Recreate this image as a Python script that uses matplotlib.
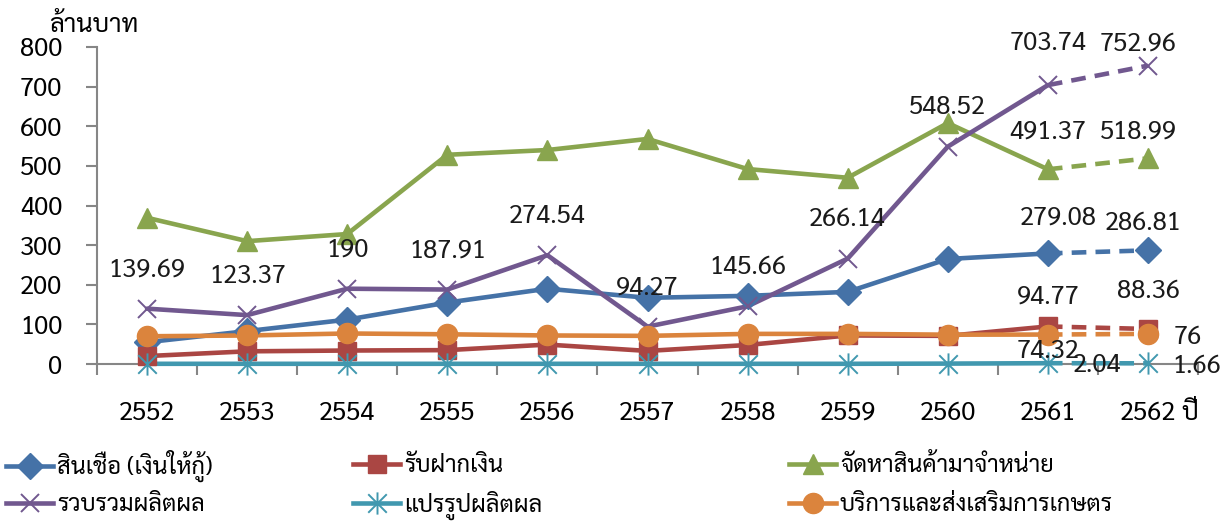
import matplotlib
matplotlib.use('Agg')
import matplotlib.pyplot as plt
from matplotlib.path import Path
import numpy as np

plt.rcParams['font.family'] = ['Sarabun', 'Noto Sans Thai', 'DejaVu Sans']
plt.rcParams['font.size'] = 18.5

years = ['2552', '2553', '2554', '2555', '2556', '2557', '2558', '2559', '2560', '2561', '2562']
credit = [55, 83, 112, 155, 190, 167, 172, 182, 265, 279.08, 286.81]
deposit = [20, 32, 34, 35, 49, 33, 48, 72, 71, 94.77, 88.36]
supply = [369, 310, 328, 528, 540, 568, 492, 470, 608, 491.37, 518.99]
collect = [139.69, 123.37, 190, 187.91, 274.54, 94.27, 145.66, 266.14, 548.52, 703.74, 752.96]
process = [0.5, 0.5, 0.5, 0.5, 0.5, 0.5, 0.5, 0.5, 1.0, 2.04, 1.66]
service = [70, 72, 77, 75, 72, 71, 76, 76, 74, 74.32, 76]

names = ['สินเชื่อ (เงินให้กู้)', 'รับฝากเงิน', 'จัดหาสินค้ามาจำหน่าย',
         'รวบรวมผลิตผล', 'แปรรูปผลิตผล', 'บริการและส่งเสริมการเกษตร']
series = [credit, deposit, supply, collect, process, service]
colors = ['#4572A7', '#AA4643', '#89A54E', '#71588F', '#4198AF', '#DB843D']

# asterisk marker: x plus vertical bar
star = Path([(-1, -1), (1, 1), (-1, 1), (1, -1), (0, -1.2), (0, 1.2)],
            [Path.MOVETO, Path.LINETO, Path.MOVETO, Path.LINETO, Path.MOVETO, Path.LINETO])
markers = ['D', 's', '^', 'x', star, 'o']
msizes = [13, 13.5, 14, 13, 16, 14.5]

fig = plt.figure(figsize=(12.31, 5.25), dpi=100)
ax = fig.add_axes([97/1231, 1-364/525, (1198-97)/1231, (364-47)/525])

x = np.arange(len(years))
handles = []
for s, c, m, ms in zip(series, colors, markers, msizes):
    s = np.array(s, dtype=float)
    mew = 1.4 if (m == 'x' or m is star) else 1.0
    ax.plot(x[:10], s[:10], color=c, lw=3.3, solid_capstyle='round',
            solid_joinstyle='round', zorder=3)
    ax.plot(x[9:], s[9:], color=c, lw=3.3, ls=(0, (3.2, 2.0)), zorder=3)
    ax.plot(x, s, ls='none', marker=m, ms=ms, color=c, mec=c, mew=mew, zorder=4)
    h, = ax.plot([], [], color=c, lw=3.3, marker=m, ms=ms, mec=c, mew=mew)
    handles.append(h)

# data labels: (series, index, x shift, y shift in data units)
labels = [(collect, i, 0, 98) for i in range(9)] + [
    (collect, 9, 0, 104), (collect, 10, -0.1, 55),
    (supply, 9, 0, 95), (supply, 10, -0.1, 67),
    (credit, 9, 0.1, 90), (credit, 10, -0.05, 67),
    (deposit, 9, 0, 75), (deposit, 10, 0, 94),
    (service, 9, 0, -44), (service, 10, 0.4, -10),
    (process, 9, 0.49, -7), (process, 10, 0.49, -7),
]
for s, i, dx, dy in labels:
    ax.text(x[i] + dx, s[i] + dy, '%g' % s[i], ha='center', va='center',
            fontsize=18.5, color='#1a1a1a', zorder=6, clip_on=False)

ax.set_xlim(-0.5, len(years) - 0.5)
ax.set_ylim(0, 800)
ax.set_yticks(np.arange(0, 801, 100))
ax.set_xticks(np.arange(-0.5, len(years), 1))
ax.set_xticklabels([])
for i, yr in enumerate(years):
    ax.text(x[i], -0.155, yr, transform=ax.get_xaxis_transform(), ha='center', va='center')
ax.text(x[-1] + 0.42, -0.155, 'ปี', transform=ax.get_xaxis_transform(), ha='center', va='center')

for sp in ['top', 'right']:
    ax.spines[sp].set_visible(False)
for sp in ['left', 'bottom']:
    ax.spines[sp].set_color('#868686')
    ax.spines[sp].set_linewidth(1.5)
ax.tick_params(axis='y', direction='out', length=8, width=1.5, color='#868686', pad=17)
ax.tick_params(axis='x', direction='out', length=8, width=1.5, color='#868686')
fig.text(94/1231, 1-25/525, 'ล้านบาท', ha='center', va='center', fontsize=18.5)

for ln in ax.lines:
    ln.set_clip_on(False)

# legend, 3 columns x 2 rows, one small legend per entry
leg_x = [6, 353, 789]
leg_y = [466, 505]
for k, (h, nm) in enumerate(zip(handles, names)):
    lg = fig.legend([h], [nm], loc='center left', frameon=False,
                    bbox_to_anchor=(leg_x[k % 3]/1231, 1 - leg_y[k // 3]/525),
                    borderpad=0, borderaxespad=0, handlelength=2.0,
                    handletextpad=0.15, fontsize=17)

fig.savefig('out.png')
